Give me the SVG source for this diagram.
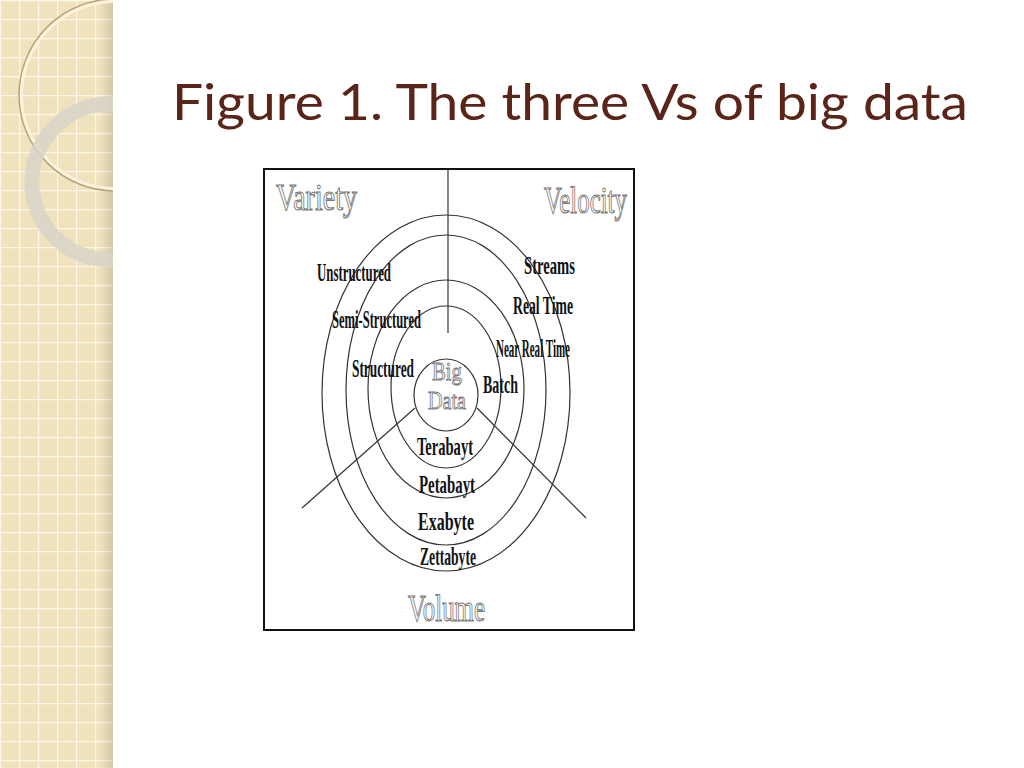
<svg xmlns="http://www.w3.org/2000/svg" width="1024" height="768" viewBox="0 0 1024 768">
<defs>
<pattern id="grid" width="19" height="19" patternUnits="userSpaceOnUse"><rect width="19" height="19" fill="#efe2bd"/><path d="M0 0.5H19M0.5 0V19" stroke="#fbf6e6" stroke-width="1.5"/></pattern>
<linearGradient id="sh" x1="0" x2="1"><stop offset="0" stop-color="#000" stop-opacity="0"/><stop offset="1" stop-color="#000" stop-opacity="0.12"/></linearGradient>
<clipPath id="strip"><rect width="113" height="768"/></clipPath>
</defs>
<style>
.ring{fill:none;stroke:#333;stroke-width:1.2}
.ln{stroke:#333;stroke-width:1.2}
.lbl{font-family:"Liberation Serif",serif;font-size:25px;fill:#111;font-weight:bold}
.big{font-family:"Liberation Serif",serif;font-size:38px;fill:#fff;stroke:#777;stroke-width:1.1}
.bd{font-family:"Liberation Serif",serif;font-size:25px;fill:#fff;stroke:#777;stroke-width:0.9}
.title{font-family:Lato,"Open Sans",sans-serif;font-size:50px;fill:#5a2418}
</style>
<rect width="1024" height="768" fill="#fff"/>
<g clip-path="url(#strip)">
<rect width="113" height="768" fill="url(#grid)"/>
<rect x="100" width="13" height="768" fill="url(#sh)"/>
<circle cx="115" cy="95" r="94" fill="none" stroke="#fbf3dc" stroke-width="4"/>
<circle cx="115" cy="95" r="96" fill="none" stroke="#b8a47a" stroke-width="1.5"/>
<circle cx="110" cy="182" r="78" fill="none" stroke="#d8d4c8" stroke-width="15" opacity="0.85"/>
</g>
<text class="title" x="172" y="120" textLength="796" lengthAdjust="spacingAndGlyphs">Figure 1. The three Vs of big data</text>
<g id="frame"><rect x="264" y="169" width="370" height="461" fill="#fff" stroke="#111" stroke-width="2"/></g>
<g id="connectors">
<line class="ln" x1="448" y1="169" x2="448" y2="333"/>
<line class="ln" x1="415" y1="408" x2="302" y2="508"/>
<line class="ln" x1="477" y1="408" x2="586" y2="518"/>
</g>
<g id="rings">
<ellipse class="ring" cx="446" cy="393" rx="124" ry="178"/>
<ellipse class="ring" cx="446" cy="390" rx="100" ry="155"/>
<ellipse class="ring" cx="446" cy="389" rx="78" ry="109"/>
<ellipse class="ring" cx="446" cy="387" rx="55" ry="81"/>
<ellipse class="ring" cx="446" cy="395" rx="32" ry="36"/>
</g>
<g id="variety"><text class="big" x="276" y="210" textLength="81" lengthAdjust="spacingAndGlyphs">Variety</text>
<text class="lbl" x="317" y="281" textLength="74" lengthAdjust="spacingAndGlyphs">Unstructured</text>
<text class="lbl" x="332" y="328" textLength="89" lengthAdjust="spacingAndGlyphs">Semi-Structured</text>
<text class="lbl" x="352" y="377" textLength="62" lengthAdjust="spacingAndGlyphs">Structured</text></g>
<g id="velocity"><text class="big" x="544" y="213" textLength="83" lengthAdjust="spacingAndGlyphs">Velocity</text>
<text class="lbl" x="524" y="274" textLength="51" lengthAdjust="spacingAndGlyphs">Streams</text>
<text class="lbl" x="513" y="314" textLength="60" lengthAdjust="spacingAndGlyphs">Real Time</text>
<text class="lbl" x="496" y="357" textLength="74" lengthAdjust="spacingAndGlyphs">Near Real Time</text>
<text class="lbl" x="483" y="393" textLength="35" lengthAdjust="spacingAndGlyphs">Batch</text></g>
<g id="bigdata"><text class="bd" x="432" y="380" textLength="30" lengthAdjust="spacingAndGlyphs">Big</text>
<text class="bd" x="428" y="409" textLength="38" lengthAdjust="spacingAndGlyphs">Data</text></g>
<g id="volume"><text class="big" x="408" y="621" textLength="77" lengthAdjust="spacingAndGlyphs">Volume</text>
<text class="lbl" x="417" y="455" textLength="56" lengthAdjust="spacingAndGlyphs">Terabayt</text>
<text class="lbl" x="419" y="493" textLength="56" lengthAdjust="spacingAndGlyphs">Petabayt</text>
<text class="lbl" x="418" y="530" textLength="56" lengthAdjust="spacingAndGlyphs">Exabyte</text>
<text class="lbl" x="420" y="565" textLength="56" lengthAdjust="spacingAndGlyphs">Zettabyte</text></g>
</svg>
